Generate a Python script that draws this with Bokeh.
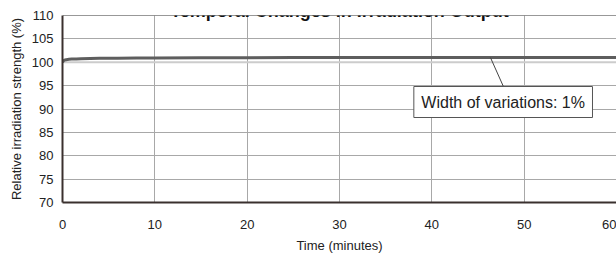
from bokeh.plotting import figure
from bokeh.models import Label, Span, FixedTicker, Range1d
from bokeh.embed import file_html
from bokeh.resources import INLINE
from bokeh.core.properties import value

# ---- data ----
time_min = [0, 0.1, 0.2, 0.4, 0.7, 1, 1.5, 2, 3, 4, 6, 8, 10, 15, 20, 25, 30, 35, 40, 45, 50, 55, 60]
irradiation = [100.0, 100.3, 100.45, 100.55, 100.62, 100.67, 100.72, 100.76, 100.8, 100.83, 100.87,
               100.9, 100.93, 100.96, 100.98, 100.99, 101.0, 101.0, 101.0, 101.0, 101.0, 101.0, 101.0]
base_time = [0.1, 60]
base_level = [100.0, 100.0]
x_ticks = [0, 10, 20, 30, 40, 50, 60]
y_ticks = [70, 75, 80, 85, 90, 95, 100, 105, 110]
title_text = "Temporal Changes in Irradiation Output"
x_title = "Time (minutes)"
y_title = "Relative irradiation strength (%)"
note_text = "Width of variations: 1%"
# annotation placement (data units)
note_box = dict(left=38.05, right=57.4, bottom=88.18, top=94.81)
leader_x = [46.35, 47.75]
leader_y = [101.0, 94.81]

FONT = "Liberation Sans"
AXIS_COL = "#3a302e"

p = figure(width=616, height=255, output_backend="svg", toolbar_location=None,
           x_range=Range1d(0, 60), y_range=Range1d(70, 110),
           min_border_left=62, min_border_right=0, min_border_top=15, min_border_bottom=53)
p.outline_line_color = None
p.background_fill_color = "white"
p.border_fill_color = "white"

for ax in (p.xaxis[0], p.yaxis[0]):
    ax.axis_line_color = AXIS_COL
    ax.axis_line_width = 2
    ax.major_tick_line_color = None
    ax.minor_tick_line_color = None
    ax.major_tick_out = 0
    ax.major_tick_in = 0
    ax.major_label_text_font = FONT
    ax.major_label_text_font_size = "13px"
    ax.major_label_text_color = "#222222"
    ax.axis_label_text_font = FONT
    ax.axis_label_text_font_size = "13px"
    ax.axis_label_text_font_style = "normal"
    ax.axis_label_text_color = "#222222"

p.xaxis.ticker = FixedTicker(ticks=x_ticks)
p.yaxis.ticker = FixedTicker(ticks=y_ticks)
p.xaxis.major_label_standoff = 17
p.xaxis.axis_label = x_title
p.xaxis.axis_label_standoff = 6
p.yaxis.major_label_standoff = 9
p.yaxis.axis_label = y_title
p.yaxis.axis_label_standoff = 5

p.xgrid.ticker = FixedTicker(ticks=x_ticks[1:-1])
p.ygrid.ticker = FixedTicker(ticks=y_ticks[1:-1])
p.grid.grid_line_color = "#a8a8a8"
p.grid.grid_line_width = 1

p.add_layout(Span(location=110, dimension="width", line_color="#333333", line_width=1))

p.line(base_time, base_level, line_color="#cccccc", line_width=2)
p.line(time_min, irradiation, line_color="#5e5e5e", line_width=3)

# leader line + box
p.line(leader_x, leader_y, line_color="#444444", line_width=1)
p.quad(left=[note_box["left"]], right=[note_box["right"]], bottom=[note_box["bottom"]],
       top=[note_box["top"]], fill_color="white", line_color="#555555", line_width=1)
p.text(x=[(note_box["left"] + note_box["right"]) / 2], y=[(note_box["bottom"] + note_box["top"]) / 2],
       text=[note_text], text_align="center", text_baseline="middle",
       text_font=value(FONT), text_font_size="16px", text_color="#222222")

p.add_layout(Label(x=30, y=110, y_offset=5, text=title_text, text_align="center",
                   text_baseline="alphabetic", text_font=FONT, text_font_size="18px",
                   text_font_style="bold", text_color="#111111"))

open("out.html", "w").write(file_html(p, INLINE))
